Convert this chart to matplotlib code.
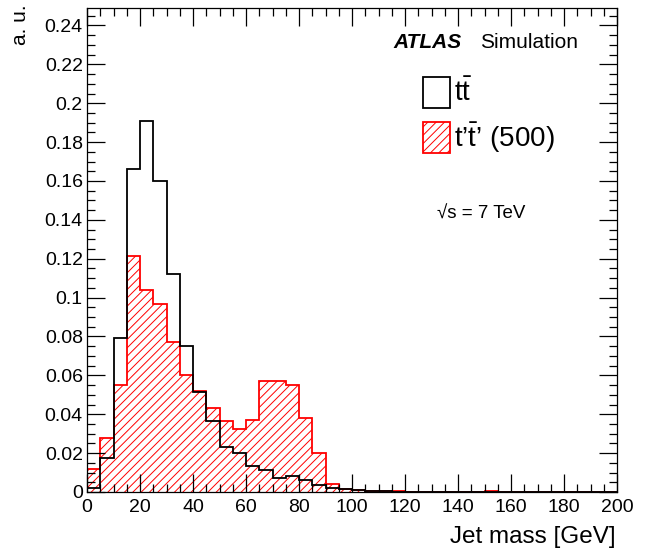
import matplotlib
matplotlib.use("Agg")
import matplotlib.pyplot as plt
from matplotlib.patches import Rectangle
from matplotlib.ticker import MultipleLocator
import numpy as np

plt.rcParams['font.family'] = ['Liberation Sans', 'DejaVu Sans']
plt.rcParams['mathtext.fontset'] = 'custom'
plt.rcParams['mathtext.rm'] = 'Liberation Sans'
plt.rcParams['mathtext.it'] = 'Liberation Sans:italic'
plt.rcParams['hatch.linewidth'] = 0.7

bin_edges = list(range(0, 205, 5))

ttbar = [0.002, 0.0173, 0.079, 0.1664, 0.191, 0.160, 0.1124, 0.0752, 0.0516, 0.0367,
         0.0233, 0.0199, 0.0134, 0.0113, 0.0074, 0.0082, 0.0063, 0.0038, 0.0022, 0.0014,
         0.0008, 0.0005, 0.0003, 0.0002, 0.0001, 0.0001, 0.0, 0.0, 0.0, 0.0,
         0.0, 0.0, 0.0, 0.0, 0.0, 0.0, 0.0, 0.0, 0.0, 0.0]

tprime = [0.0116, 0.028, 0.055, 0.1213, 0.104, 0.0967, 0.0773, 0.060, 0.052, 0.043,
          0.0367, 0.0322, 0.037, 0.0572, 0.0572, 0.0552, 0.0379, 0.0200, 0.004, 0.0016,
          0.001, 0.0006, 0.0007, 0.0003, 0.0001, 0.0001, 0.0001, 0.0001, 0.0001, 0.0001,
          0.0005, 0.0, 0.0, 0.0, 0.0, 0.0, 0.0, 0.0, 0.0, 0.0]

xticks = [0, 20, 40, 60, 80, 100, 120, 140, 160, 180, 200]
yticks = [0, 0.02, 0.04, 0.06, 0.08, 0.1, 0.12, 0.14, 0.16, 0.18, 0.2, 0.22, 0.24]
ytick_labels = ["0", "0.02", "0.04", "0.06", "0.08", "0.1", "0.12", "0.14", "0.16",
                "0.18", "0.2", "0.22", "0.24"]

W, H = 646, 550
fig = plt.figure(figsize=(W / 100, H / 100), dpi=100)
ax = fig.add_axes([87 / W, 1 - 492 / H, (617 - 87) / W, (492 - 8) / H])

ax.stairs(tprime, bin_edges, fill=True, facecolor='none', edgecolor='#ff0000',
          hatch='////', linewidth=1.3, baseline=0)
ax.stairs(ttbar, bin_edges, fill=False, color='black', linewidth=1.3, baseline=0)

ax.set_xlim(0, 200)
ax.set_ylim(0, 0.249)
ax.set_xticks(xticks)
ax.set_xticklabels([str(v) for v in xticks])
ax.set_yticks(yticks)
ax.set_yticklabels(ytick_labels)
ax.xaxis.set_minor_locator(MultipleLocator(5))
ax.yaxis.set_minor_locator(MultipleLocator(0.005))
ax.tick_params(which='both', direction='in', top=True, right=True, labelsize=14, width=0.9)
ax.tick_params(which='major', length=13)
ax.tick_params(which='minor', length=6)
ax.tick_params(axis='x', pad=5)
ax.tick_params(axis='y', pad=3)
for s in ax.spines.values():
    s.set_linewidth(0.9)

fig.text(616 / W, 1 - 543 / H, "Jet mass [GeV]", ha='right', va='baseline', fontsize=17.5)
fig.text(20 / W, 1 - 4 / H, "a. u.", ha='center', va='top', rotation=90, fontsize=15)

fig.text(393 / W, 1 - 43 / H, "ATLAS", ha='left', va='center', fontsize=15,
         fontweight='bold', fontstyle='italic')
fig.text(480 / W, 1 - 43 / H, "Simulation", ha='left', va='center', fontsize=15)

r1 = Rectangle((423 / W, 1 - 108 / H), 27 / W, 31 / H, transform=fig.transFigure,
               facecolor='none', edgecolor='black', linewidth=1.3)
r2 = Rectangle((423 / W, 1 - 153 / H), 27 / W, 31 / H, transform=fig.transFigure,
               facecolor='none', edgecolor='#ff0000', hatch='////', linewidth=1.3)
fig.patches.extend([r1, r2])
fig.text(454 / W, 1 - 93 / H, r"$\mathrm{t\bar{t}}$", ha='left', va='center', fontsize=20)
fig.text(454 / W, 1 - 138 / H, r"$\mathrm{t’\bar{t}’}$ (500)", ha='left', va='center', fontsize=20)

fig.text(437 / W, 1 - 214 / H, "√s = 7 TeV", ha='left', va='center', fontsize=13.5)

fig.savefig("out.png", dpi=100)
